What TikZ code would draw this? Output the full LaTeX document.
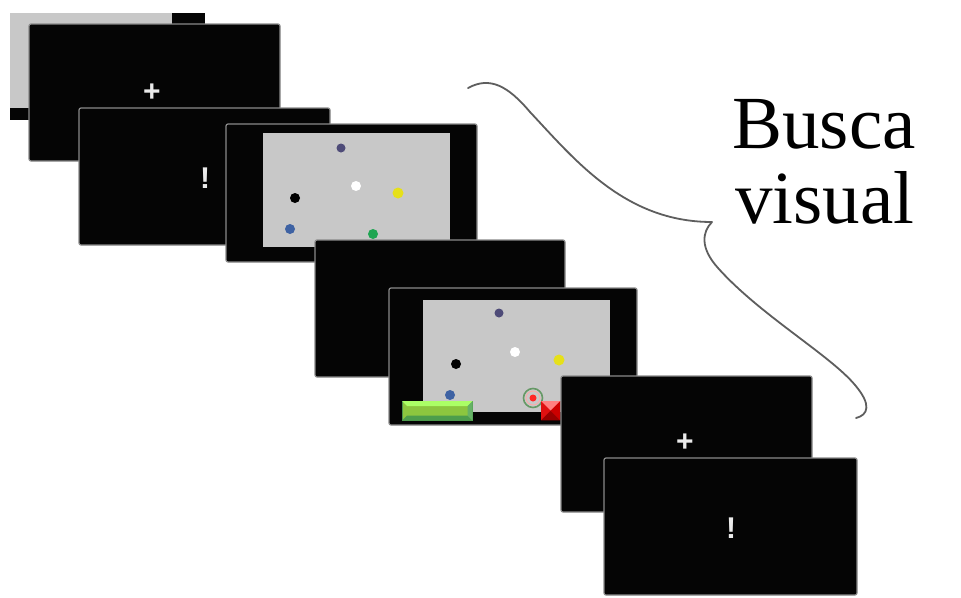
\documentclass[tikz,border=0pt]{standalone}
\usepackage{fontspec}
\setmainfont{Liberation Serif}
\newfontfamily\signfont{Liberation Sans}
\definecolor{scrgray}{HTML}{C8C8C8}
\definecolor{edgegray}{HTML}{8A8A8A}
\definecolor{dotpurple}{HTML}{4E4B78}
\definecolor{dotyellow}{HTML}{E6E01A}
\definecolor{dotblue}{HTML}{3E62A3}
\definecolor{dotgreen}{HTML}{1FA552}
\definecolor{btngreen}{HTML}{8CC63F}
\definecolor{btnred}{HTML}{E01010}
\definecolor{bracegray}{HTML}{5E5E5E}
\definecolor{scrblack}{HTML}{050505}
\tikzset{
  screen/.style={fill=scrblack, draw=edgegray, line width=1.2pt, rounded corners=2pt,
                 anchor=north west, inner sep=0pt, outer sep=0pt},
  display/.style={fill=scrgray, draw=none, anchor=north west, inner sep=0pt, outer sep=0pt},
  sign/.style={text=white!92!black, font=\signfont\bfseries\fontsize{30}{30}\selectfont, inner sep=0pt},
  dot/.style={circle, inner sep=0pt, minimum size=10pt},
  label/.style={font=\fontsize{75}{75}\selectfont, text=black, inner sep=0pt, anchor=base},
}
\begin{document}
\begin{tikzpicture}[x=1pt, y=-1pt]
\useasboundingbox[fill=white] (0,0) rectangle (961,597);

% screen 0 (partly hidden)
\node[screen, draw=none, rounded corners=0pt, minimum width=195pt, minimum height=107pt] (s0) at (10,13) {};
\node[display, minimum width=162pt, minimum height=95pt] (g0) at (10,13) {};

% screen 1: fixation
\node[screen, minimum width=251pt, minimum height=137pt] (s1) at (29,24) {};
\node[sign] (p1) at (152,93) {+};

% screen 2: alert
\node[screen, minimum width=251pt, minimum height=137pt] (s2) at (79,108) {};
\node[sign] (e2) at (205,178) {!};

% screen 3: search display
\node[screen, minimum width=251pt, minimum height=138pt] (s3) at (226,124) {};
\node[display, minimum width=187pt, minimum height=114pt] (g3) at (263,133) {};
\node[dot, fill=dotpurple, minimum size=9pt] (d3a) at (341,148) {};
\node[dot, fill=white] (d3b) at (356,186) {};
\node[dot, fill=dotyellow, minimum size=11pt] (d3c) at (398,193) {};
\node[dot, fill=black] (d3d) at (295,198) {};
\node[dot, fill=dotblue] (d3e) at (290,229) {};
\node[dot, fill=dotgreen] (d3f) at (373,234) {};

% screen 4: blank
\node[screen, minimum width=250pt, minimum height=137pt] (s4) at (315,240) {};

% screen 5: search with response
\node[screen, minimum width=248pt, minimum height=137pt] (s5) at (389,288) {};
\node[display, minimum width=187pt, minimum height=112pt] (g5) at (423,300) {};
\node[dot, fill=dotpurple, minimum size=9pt] (d5a) at (499,313) {};
\node[dot, fill=white] (d5b) at (515,352) {};
\node[dot, fill=dotyellow, minimum size=11pt] (d5c) at (559,360) {};
\node[dot, fill=black] (d5d) at (456,364) {};
\node[dot, fill=dotblue] (d5e) at (450,395) {};
\node[circle, draw=gray!80!green, line width=1.6pt, minimum size=19pt, inner sep=0pt] (t5) at (533,398) {};
\node[circle, draw=red!35, line width=0.8pt, minimum size=14pt, inner sep=0pt] (t5b) at (533,398) {};
\node[dot, fill=red!85!white, minimum size=7pt] (d5f) at (533,398) {};

% green button
\node[fill=btngreen, draw=green!40!black!70, line width=0.6pt, anchor=north west,
      minimum width=70pt, minimum height=19pt, inner sep=0pt] (btn) at (402,401) {};
\fill[green!55!yellow!60!white] (btn.north west) -- (btn.north east) -- ([xshift=-5pt,yshift=-5pt]btn.north east) -- ([xshift=5pt,yshift=-5pt]btn.north west) -- cycle;
\fill[green!45!black!70] (btn.south west) -- (btn.south east) -- ([xshift=-5pt,yshift=5pt]btn.south east) -- ([xshift=5pt,yshift=5pt]btn.south west) -- cycle;
\fill[green!50!black!60] (btn.north east) -- (btn.south east) -- ([xshift=-5pt,yshift=5pt]btn.south east) -- ([xshift=-5pt,yshift=-5pt]btn.north east) -- cycle;

% red square
\node[fill=btnred, anchor=north west, minimum width=19pt, minimum height=19pt, inner sep=0pt] (rsq) at (541,401) {};
\fill[red!50!white] (rsq.north west) -- (rsq.north east) -- (rsq.center) -- cycle;
\fill[red!60!black] (rsq.south west) -- (rsq.south east) -- (rsq.center) -- cycle;
\fill[red!80!black] (rsq.north east) -- (rsq.south east) -- (rsq.center) -- cycle;

% screen 6: fixation
\node[screen, minimum width=251pt, minimum height=136pt] (s6) at (561,376) {};
\node[sign] (p6) at (685,443) {+};

% screen 7: alert
\node[screen, minimum width=253pt, minimum height=137pt] (s7) at (604,458) {};
\node[sign] (e7) at (731,528) {!};

% brace
\coordinate (bt) at (468,88);
\coordinate (bc) at (712,222);
\coordinate (bb) at (856,418);
\draw[bracegray, line width=1.8pt, line cap=round, line join=round]
  (bt) .. controls (490,76) and (508,86) .. (530,112)
       .. controls (575,160) and (625,222) .. (bc)
       .. controls (702,232) and (700,248) .. (718,268)
       .. controls (760,315) and (830,355) .. (855,385)
       .. controls (872,405) and (868,415) .. (bb);

% label
\node[label] (l1) at (824,148) {Busca};
\node[label] (l2) at (825,223) {visual};
\end{tikzpicture}
\end{document}
